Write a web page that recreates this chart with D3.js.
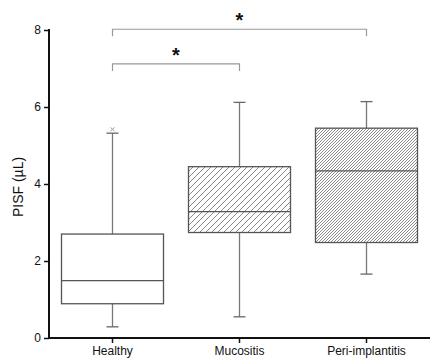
<!DOCTYPE html>
<html>
<head>
<meta charset="utf-8">
<script src="https://cdn.jsdelivr.net/npm/d3@7"></script>
<style>
  body { margin: 0; background: #fff; }
  text { font-family: Arial, "Liberation Sans", sans-serif; }
</style>
</head>
<body>
<div id="container"></div>
<script>
// data
var groups = ["Healthy", "Mucositis", "Peri-implantitis"];
var whiskerLow = [0.29, 0.55, 1.66];
var q1 = [0.89, 2.74, 2.48];
var median = [1.49, 3.28, 4.34];
var q3 = [2.70, 4.45, 5.45];
var whiskerHigh = [5.32, 6.12, 6.14];
var outliers = [[5.42], [], []];
var yTicks = [0, 2, 4, 6, 8];
// significance brackets: from group, to group, level
var bracketFrom = [0, 0];
var bracketTo = [1, 2];
var bracketLevel = [7.12, 8.02];
var bracketLabel = ["*", "*"];

var w = 430, h = 360;
var plotLeft = 49, plotRight = 430, plotTop = 30, plotBottom = 338;

var svg = d3.select("#container")
	.append("svg")
	.attr("width", w)
	.attr("height", h);

// hatch patterns (white ground so the whisker doesn't show through)
var defs = svg.append("defs");
function hatch(id, step) {
	var p = defs.append("pattern")
		.attr("id", id)
		.attr("patternUnits", "userSpaceOnUse")
		.attr("width", step)
		.attr("height", step);
	p.append("rect")
		.attr("width", step).attr("height", step)
		.attr("fill", "#fff");
	p.append("path")
		.attr("d", "M0," + step + " L" + step + ",0 M" + (-step) + "," + step + " L" + step + "," + (-step) + " M0," + (2 * step) + " L" + (2 * step) + ",0")
		.attr("stroke", "#8a8a8a")
		.attr("stroke-width", 1);
}
hatch("hatchWide", 6);
hatch("hatchDense", 3);
var fills = ["#fff", "url(#hatchWide)", "url(#hatchDense)"];

var xScale = d3.scaleBand()
	.domain(groups)
	.range([plotLeft, plotRight]);

var yScale = d3.scaleLinear()
	.domain([0, 8])
	.range([plotBottom, plotTop]);

var boxW = 102, capW = 12;

var g = svg.selectAll("g.box")
	.data(groups)
	.enter()
	.append("g")
	.attr("class", "box");

function cx(d) { return xScale(d) + xScale.bandwidth() / 2; }

// whiskers
g.append("line")
	.attr("x1", cx).attr("x2", cx)
	.attr("y1", function(d, i) { return yScale(whiskerLow[i]); })
	.attr("y2", function(d, i) { return yScale(whiskerHigh[i]); })
	.attr("stroke", "#777").attr("stroke-width", 1.3);

[whiskerLow, whiskerHigh].forEach(function(arr) {
	g.append("line")
		.attr("x1", function(d) { return cx(d) - capW / 2; })
		.attr("x2", function(d) { return cx(d) + capW / 2; })
		.attr("y1", function(d, i) { return yScale(arr[i]); })
		.attr("y2", function(d, i) { return yScale(arr[i]); })
		.attr("stroke", "#666").attr("stroke-width", 1.3);
});

// boxes
g.append("rect")
	.attr("x", function(d) { return cx(d) - boxW / 2; })
	.attr("width", boxW)
	.attr("y", function(d, i) { return yScale(q3[i]); })
	.attr("height", function(d, i) { return yScale(q1[i]) - yScale(q3[i]); })
	.attr("fill", function(d, i) { return fills[i]; })
	.attr("stroke", "#555").attr("stroke-width", 1.3);

g.append("line")
	.attr("x1", function(d) { return cx(d) - boxW / 2; })
	.attr("x2", function(d) { return cx(d) + boxW / 2; })
	.attr("y1", function(d, i) { return yScale(median[i]); })
	.attr("y2", function(d, i) { return yScale(median[i]); })
	.attr("stroke", "#555").attr("stroke-width", 1.3);

// outliers as small x marks
g.each(function(d, i) {
	var sel = d3.select(this);
	outliers[i].forEach(function(v) {
		var x = cx(d), y = yScale(v);
		sel.append("path")
			.attr("d", "M" + (x - 2) + "," + (y - 2) + "L" + (x + 2) + "," + (y + 2) + "M" + (x - 2) + "," + (y + 2) + "L" + (x + 2) + "," + (y - 2))
			.attr("stroke", "#999").attr("stroke-width", 1);
	});
});

// axes
var yAxis = svg.append("g")
	.attr("transform", "translate(" + plotLeft + ",0)")
	.call(d3.axisLeft(yScale).tickValues(yTicks).tickSize(5).tickPadding(3));
var xAxis = svg.append("g")
	.attr("transform", "translate(0," + plotBottom + ")")
	.call(d3.axisBottom(xScale).tickSize(5).tickPadding(3).tickSizeOuter(0));

[yAxis, xAxis].forEach(function(a) {
	a.select(".domain").attr("stroke", "#111").attr("stroke-width", 2);
	a.selectAll(".tick line").attr("stroke", "#111").attr("stroke-width", 1.5);
	a.selectAll(".tick text").attr("font-size", "12px").attr("fill", "#111")
		.attr("font-family", "Arial, 'Liberation Sans', sans-serif");
});
yAxis.select(".domain").attr("d", "M0," + (plotTop - 1) + "V" + (plotBottom + 1));
xAxis.select(".domain").attr("d", "M" + (plotLeft - 1) + ",0H" + plotRight);

svg.append("text")
	.attr("transform", "translate(23," + ((plotTop + plotBottom) / 2 + 3) + ") rotate(-90)")
	.attr("text-anchor", "middle")
	.attr("font-size", "14px")
	.attr("fill", "#111")
	.text("PISF (µL)");

// significance brackets
bracketLevel.forEach(function(lv, i) {
	var x1 = cx(groups[bracketFrom[i]]), x2 = cx(groups[bracketTo[i]]);
	var y = yScale(lv);
	svg.append("path")
		.attr("d", "M" + x1 + "," + (y + 7) + "V" + y + "H" + x2 + "V" + (y + 7))
		.attr("fill", "none")
		.attr("stroke", "#999").attr("stroke-width", 1.2);
	svg.append("text")
		.attr("x", (x1 + x2) / 2)
		.attr("y", y - 2)
		.attr("text-anchor", "middle")
		.attr("font-size", "20px")
		.attr("font-weight", "bold")
		.attr("fill", "#111")
		.text(bracketLabel[i]);
});
</script>
</body>
</html>
